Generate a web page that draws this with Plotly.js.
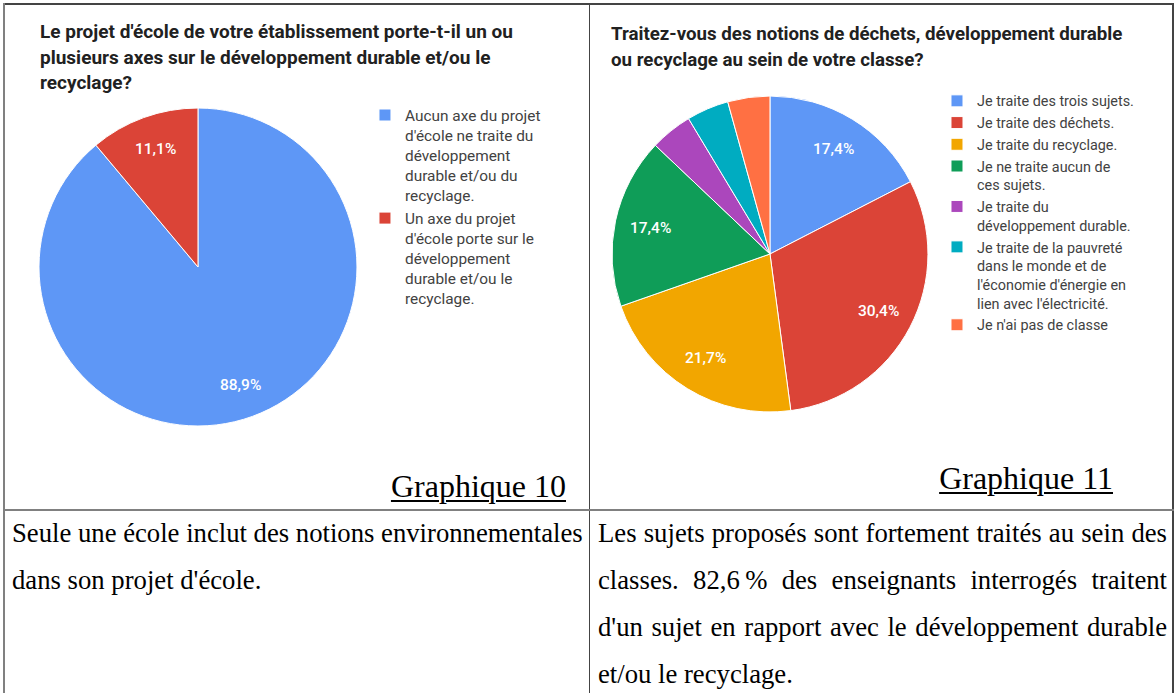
<!DOCTYPE html>
<html>
<head>
<meta charset="utf-8">
<script src="https://cdn.plot.ly/plotly-3.0.1.min.js"></script>
<style>
  html, body { margin: 0; padding: 0; background: #ffffff; }
  #page { position: relative; width: 1176px; height: 693px; overflow: hidden; background: #fff; }
  .line { position: absolute; }
  .gtitle { position: absolute; font-family: Roboto, sans-serif; font-weight: bold; line-height: 25.5px; color: #212121; white-space: nowrap; }
  .graphique { position: absolute; font-family: "Liberation Serif", "Times New Roman", serif; font-size: 32px; text-decoration: underline; text-underline-offset: 3px; text-decoration-thickness: 1.5px; color: #000; white-space: nowrap; }
  .body { position: absolute; font-family: "Liberation Serif", "Times New Roman", serif; font-size: 26.7px; line-height: 47px; color: #000; }
  .plot { position: absolute; }
</style>
</head>
<body>
<div id="page">
  <div id="chart1" class="plot" style="left:5px; top:5px; width:584px; height:504px;"></div>
  <div id="chart2" class="plot" style="left:591px; top:5px; width:581px; height:504px;"></div>

  <div class="gtitle" id="title1" style="left:40px; top:19px; font-size:19px;"></div>
  <div class="gtitle" id="title2" style="left:611px; top:22px; font-size:18.7px;"></div>

  <div class="graphique" id="cap1" style="right:610px; top:468px;"></div>
  <div class="graphique" id="cap2" style="right:63px; top:460px;"></div>

  <div class="body" id="text1" style="left:12px; top:510px; width:576px;"></div>
  <div class="body" id="text2" style="left:598px; top:510px; width:569px; text-align:justify;"></div>

  <!-- table borders -->
  <div class="line" style="left:3px; top:3px; width:1171px; height:2px; background:#444;"></div>
  <div class="line" style="left:3px; top:3px; width:2px; height:690px; background:#808080;"></div>
  <div class="line" style="left:1172px; top:3px; width:2px; height:690px; background:#444;"></div>
  <div class="line" style="left:589px; top:3px; width:1px; height:690px; background:#444;"></div>
  <div class="line" style="left:3px; top:509px; width:1171px; height:2px; background:#808080;"></div>
</div>
<script>
// ---------- data ----------
const title1 = "Le projet d'école de votre établissement porte-t-il un ou<br>plusieurs axes sur le développement durable et/ou le<br>recyclage?";
const labels1 = [
  "Aucun axe du projet<br>d'école ne traite du<br>développement<br>durable et/ou du<br>recyclage.",
  "Un axe du projet<br>d'école porte sur le<br>développement<br>durable et/ou le<br>recyclage."
];
const values1 = [88.9, 11.1];
const colors1 = ["#5e97f6", "#db4437"];

const title2 = "Traitez-vous des notions de déchets, développement durable<br>ou recyclage au sein de votre classe?";
const labels2 = [
  "Je traite des trois sujets.",
  "Je traite des déchets.",
  "Je traite du recyclage.",
  "Je ne traite aucun de<br>ces sujets.",
  "Je traite du<br>développement durable.",
  "Je traite de la pauvreté<br>dans le monde et de<br>l'économie d'énergie en<br>lien avec l'électricité.",
  "Je n'ai pas de classe"
];
const values2 = [17.4, 30.4, 21.7, 17.4, 4.3, 4.3, 4.3];
const colors2 = ["#5e97f6", "#db4437", "#f2a600", "#0f9d58", "#ab47bc", "#00acc1", "#ff7043"];

const caption1 = "Graphique 10";
const caption2 = "Graphique 11";
const comment1 = "Seule une école inclut des notions environnementales dans son projet d'école.";
const comment2 = "Les sujets proposés sont fortement traités au sein des classes. 82,6\u202F% des enseignants interrogés traitent d'un sujet en rapport avec le développement durable et/ou le recyclage.";

// ---------- text cells ----------
document.getElementById('title1').innerHTML = title1;
document.getElementById('title2').innerHTML = title2;
document.getElementById('cap1').textContent = caption1;
document.getElementById('cap2').textContent = caption2;
document.getElementById('text1').textContent = comment1;
document.getElementById('text2').textContent = comment2;

// ---------- charts ----------
// percentage labels placed along each slice's mid-angle (computed from the values)
function sliceLabels(values, domain, W, H, k) {
  const total = values.reduce((a, b) => a + b, 0);
  const cx = (domain.x[0] + domain.x[1]) / 2 * W;
  const cy = (1 - (domain.y[0] + domain.y[1]) / 2) * H;
  const R = Math.min((domain.x[1] - domain.x[0]) * W, (domain.y[1] - domain.y[0]) * H) / 2;
  const out = [];
  let cum = 0;
  values.forEach(v => {
    const mid = (cum + v / 2) / total * 2 * Math.PI;
    cum += v;
    if (v / total < 0.06) return;
    const px = cx + k * R * Math.sin(mid);
    const py = cy - k * R * Math.cos(mid);
    out.push({
      xref: 'paper', yref: 'paper', x: px / W, y: 1 - py / H,
      xanchor: 'center', yanchor: 'middle', showarrow: false,
      text: v.toFixed(1).replace('.', ',') + '%',
      font: { family: 'Roboto, sans-serif', size: 15.5, color: '#ffffff', weight: 500 }
    });
  });
  return out;
}

function pieTrace(labels, values, colors, domain) {
  return {
    type: 'pie',
    labels: labels,
    values: values,
    sort: false,
    direction: 'clockwise',
    rotation: 0,
    domain: domain,
    marker: { colors: colors, line: { color: '#ffffff', width: 1 } },
    textinfo: 'none',
    hoverinfo: 'skip'
  };
}

function pieLayout(W, H, legendX, legendY, legendFont, annotations) {
  return {
    width: W, height: H,
    margin: { l: 0, r: 0, t: 0, b: 0 },
    paper_bgcolor: 'rgba(0,0,0,0)',
    plot_bgcolor: 'rgba(0,0,0,0)',
    separators: ', ',
    showlegend: true,
    annotations: annotations,
    legend: {
      x: legendX, y: legendY, xanchor: 'left', yanchor: 'top', valign: 'top',
      font: { family: 'Roboto, sans-serif', size: legendFont, color: '#424242' },
      bgcolor: 'rgba(0,0,0,0)', borderwidth: 0, traceorder: 'normal'
    }
  };
}

const dom1 = { x: [0.0582, 0.6027], y: [0.1647, 0.7956] };
Plotly.newPlot('chart1',
  [pieTrace(labels1, values1, colors1, dom1)],
  pieLayout(584, 504, 0.6164, 0.8145, 15.4, sliceLabels(values1, dom1, 584, 504, 0.79)),
  { staticPlot: true, displayModeBar: false });

const dom2 = { x: [0.0361, 0.5800], y: [0.1925, 0.8194] };
Plotly.newPlot('chart2',
  [pieTrace(labels2, values2, colors2, dom2)],
  pieLayout(581, 504, 0.5955, 0.8413, 14.4, sliceLabels(values2, dom2, 581, 504, 0.775)),
  { staticPlot: true, displayModeBar: false });
</script>
</body>
</html>
